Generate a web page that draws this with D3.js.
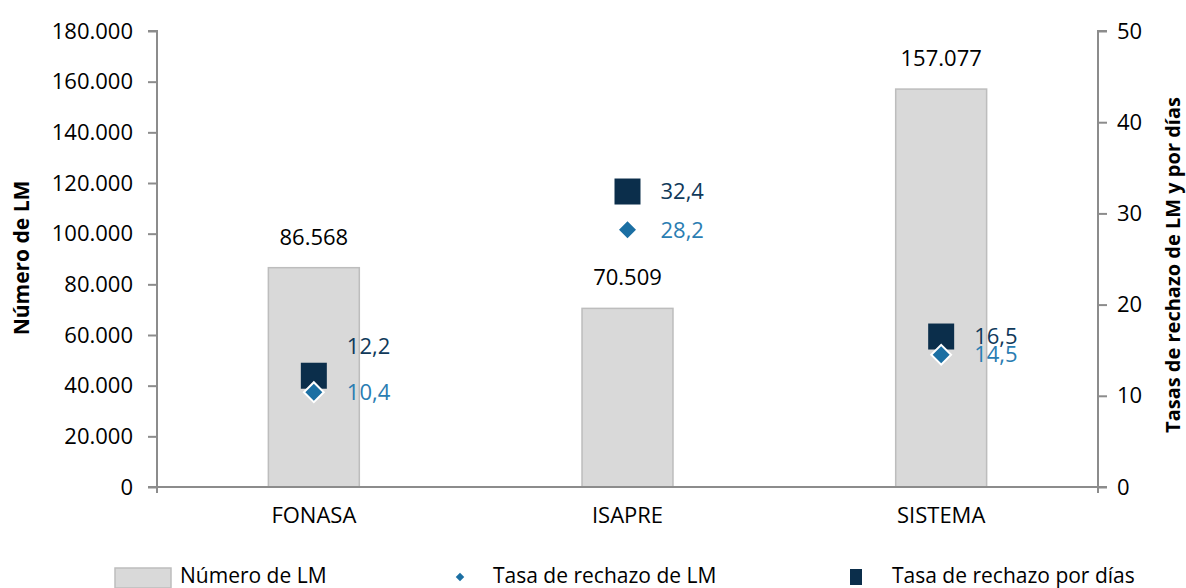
<!DOCTYPE html>
<html>
<head>
<meta charset="utf-8">
<script src="https://cdn.jsdelivr.net/npm/d3@7"></script>
<style>
  body { margin: 0; background: #fff; }
  text { font-family: "Open Sans", sans-serif; }
</style>
</head>
<body>
<div id="chart-area"></div>
<script>
// data
var categories = ["FONASA", "ISAPRE", "SISTEMA"];
var numeroLM = [86568, 70509, 157077];
var tasaRechazoLM = [10.4, 28.2, 14.5];
var tasaRechazoDias = [12.2, 32.4, 16.5];
var leftTicks = [0, 20000, 40000, 60000, 80000, 100000, 120000, 140000, 160000, 180000];
var rightTicks = [0, 10, 20, 30, 40, 50];
var legendLabels = ["Número de LM", "Tasa de rechazo de LM", "Tasa de rechazo por días"];

var W = 1186, H = 588;
var margin = { left: 157, right: 88, top: 31, bottom: 101 },
    width = W - margin.left - margin.right,
    height = H - margin.top - margin.bottom;

var axisColor = "#8c8c8c",
    barFill = "#d9d9d9",
    barStroke = "#bdbdbd",
    squareColor = "#0b2e4b",
    diamondColor = "#1b6fa3";

var fmtThousands = function(v) {
    return d3.format(",")(v).replace(/,/g, ".");
};
var fmtDecimal = function(v) {
    return d3.format(".1f")(v).replace(".", ",");
};

var svg = d3.select("#chart-area")
    .append("svg")
    .attr("width", W)
    .attr("height", H);
var g = svg.append("g")
    .attr("transform", "translate(" + margin.left + "," + margin.top + ")");

// Scales
var x = d3.scaleBand().domain(categories).range([0, width]).paddingInner(0.71).paddingOuter(0.355);
var y = d3.scaleLinear().domain([0, 180000]).range([height, 0]);
var y2 = d3.scaleLinear().domain([0, 50]).range([height, 0]);
var cx = function(c) { return x(c) + x.bandwidth() / 2; };

// Bars
g.selectAll("rect.bar")
    .data(categories)
    .enter().append("rect")
    .attr("class", "bar")
    .attr("x", function(d) { return x(d); })
    .attr("width", x.bandwidth())
    .attr("y", function(d, i) { return y(numeroLM[i]); })
    .attr("height", function(d, i) { return height - y(numeroLM[i]); })
    .attr("fill", barFill)
    .attr("stroke", barStroke)
    .attr("stroke-width", 1.5);

g.selectAll("text.barlabel")
    .data(categories)
    .enter().append("text")
    .attr("class", "barlabel")
    .attr("x", cx)
    .attr("y", function(d, i) { return y(numeroLM[i]) - 23; })
    .attr("text-anchor", "middle")
    .attr("font-size", "22px")
    .attr("fill", "#000")
    .text(function(d, i) { return fmtThousands(numeroLM[i]); });

// Left axis
var yAxis = g.append("g")
    .call(d3.axisLeft(y).tickValues(leftTicks).tickSize(9).tickFormat(fmtThousands));
yAxis.select(".domain").attr("stroke", axisColor).attr("stroke-width", 2)
    .attr("d", "M-9," + y(180000) + "H0V" + (height + 6));
yAxis.selectAll(".tick line").attr("stroke", axisColor).attr("stroke-width", 2);
yAxis.selectAll(".tick text").attr("font-size", "22px").attr("fill", "#000").attr("x", -24)
    .attr("font-family", "Open Sans, sans-serif");

// Right axis
var y2Axis = g.append("g")
    .attr("transform", "translate(" + width + ",0)")
    .call(d3.axisRight(y2).tickValues(rightTicks).tickSize(9));
y2Axis.select(".domain").attr("stroke", axisColor).attr("stroke-width", 2)
    .attr("d", "M9," + y2(50) + "H0V" + (height + 6));
y2Axis.selectAll(".tick line").attr("stroke", axisColor).attr("stroke-width", 2);
y2Axis.selectAll(".tick text").attr("font-size", "22px").attr("fill", "#000").attr("x", 19)
    .attr("font-family", "Open Sans, sans-serif");

// X axis
var xAxis = g.append("g")
    .attr("transform", "translate(0," + height + ")")
    .call(d3.axisBottom(x).tickSize(0).tickPadding(20));
xAxis.select(".domain").attr("stroke", axisColor).attr("stroke-width", 2)
    .attr("d", "M-9,0H" + (width + 9));
xAxis.selectAll(".tick text").attr("font-size", "22px").attr("fill", "#000")
    .attr("font-family", "Open Sans, sans-serif");

// Markers: squares (tasa por días) then diamonds (tasa LM)
var square = d3.symbol().type(d3.symbolSquare).size(26 * 26);
var diamond = d3.symbol().type(d3.symbolSquare).size(14 * 14);

g.selectAll("path.sq")
    .data(categories)
    .enter().append("path")
    .attr("class", "sq")
    .attr("d", square)
    .attr("transform", function(d, i) { return "translate(" + cx(d) + "," + y2(tasaRechazoDias[i]) + ")"; })
    .attr("fill", squareColor);

g.selectAll("path.dm")
    .data(categories)
    .enter().append("path")
    .attr("class", "dm")
    .attr("d", diamond)
    .attr("transform", function(d, i) { return "translate(" + cx(d) + "," + y2(tasaRechazoLM[i]) + ") rotate(45)"; })
    .attr("fill", diamondColor)
    .attr("stroke", "#fff")
    .attr("stroke-width", 2);

// Point labels (FONASA square label nudged up like the original)
var sqShift = { FONASA: -29 };
g.selectAll("text.sqlabel")
    .data(categories)
    .enter().append("text")
    .attr("class", "sqlabel")
    .attr("x", function(d) { return cx(d) + 33; })
    .attr("y", function(d, i) { return y2(tasaRechazoDias[i]) + (sqShift[d] || 0); })
    .attr("dy", "0.35em")
    .attr("font-size", "22px")
    .attr("fill", "#10395a")
    .text(function(d, i) { return fmtDecimal(tasaRechazoDias[i]); });

g.selectAll("text.dmlabel")
    .data(categories)
    .enter().append("text")
    .attr("class", "dmlabel")
    .attr("x", function(d) { return cx(d) + 33; })
    .attr("y", function(d, i) { return y2(tasaRechazoLM[i]); })
    .attr("dy", "0.35em")
    .attr("font-size", "22px")
    .attr("fill", "#2a7db2")
    .text(function(d, i) { return fmtDecimal(tasaRechazoLM[i]); });

// Axis titles
svg.append("text")
    .attr("transform", "translate(29," + (margin.top + height / 2 - 1) + ") rotate(-90)")
    .attr("text-anchor", "middle")
    .attr("font-size", "21px")
    .attr("font-weight", "bold")
    .attr("fill", "#000")
    .text("Número de LM");

svg.append("text")
    .attr("transform", "translate(1180," + (margin.top + height / 2 + 6) + ") rotate(-90)")
    .attr("text-anchor", "middle")
    .attr("font-size", "20px")
    .attr("font-weight", "bold")
    .attr("fill", "#000")
    .text("Tasas de rechazo de LM y por días");

// Legend
var leg = svg.append("g").attr("transform", "translate(0,576)");
leg.append("rect").attr("x", 115).attr("y", -8).attr("width", 56).attr("height", 20)
    .attr("fill", barFill).attr("stroke", barStroke).attr("stroke-width", 1.5);
leg.append("path").attr("d", d3.symbol().type(d3.symbolSquare).size(6 * 6))
    .attr("transform", "translate(460,1) rotate(45)").attr("fill", diamondColor);
leg.append("rect").attr("x", 850).attr("y", -7).attr("width", 12).attr("height", 16)
    .attr("fill", squareColor);
var legX = [180, 493, 892];
leg.selectAll("text.leg")
    .data(legendLabels)
    .enter().append("text")
    .attr("class", "leg")
    .attr("x", function(d, i) { return legX[i]; })
    .attr("dy", "0.35em")
    .attr("font-size", "21px")
    .attr("fill", "#000")
    .text(function(d) { return d; });
</script>
</body>
</html>
